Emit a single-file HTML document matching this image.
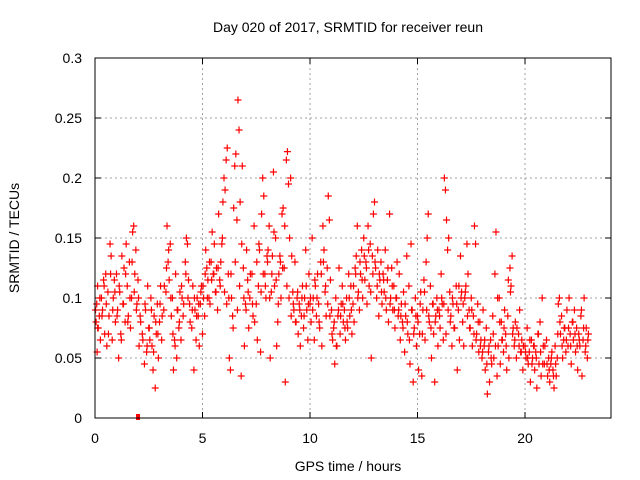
<!DOCTYPE html>
<html><head><meta charset="utf-8"><style>
body{margin:0;background:#fff}
svg{display:block;font-family:"Liberation Sans",sans-serif}
</style></head><body>
<svg id="chart" width="640" height="480">
<rect width="640" height="480" fill="#fff"/>
<text x="348" y="32" font-size="14" text-anchor="middle">Day 020 of 2017, SRMTID for receiver reun</text>
<text x="348" y="471" font-size="14" text-anchor="middle">GPS time / hours</text>
<text transform="translate(19,238) rotate(-90)" font-size="14" text-anchor="middle">SRMTID / TECUs</text>
<g id="grid"></g><g id="ticks"></g><g id="pts"></g>
<rect x="95" y="58" width="516" height="360" fill="none" stroke="#000" stroke-width="1"/>
</svg>
<script>
const xTicks=[0,5,10,15,20];
const yTicks=[0,0.05,0.1,0.15,0.2,0.25,0.3];
const yTickLabels=["0","0.05","0.1","0.15","0.2","0.25","0.3"];
const times=[0.05,0.08,0.1,0.12,0.15,0.2,0.25,0.3,0.35,0.4,0.45,0.5,0.55,0.6,0.65,0.7,0.75,0.8,0.85,0.9,0.95,1.0,1.05,1.1,1.15,1.2,1.25,1.3,1.35,1.4,1.45,1.5,1.55,1.6,1.65,1.7,1.75,1.8,1.85,1.9,1.95,2.0,2.05,2.1,2.2,2.3,2.35,2.4,2.45,2.5,2.55,2.6,2.65,2.7,2.75,2.8,2.85,2.9,2.95,3.0,3.05,3.1,3.2,3.3,3.35,3.4,3.45,3.5,3.55,3.6,3.65,3.7,3.75,3.8,3.85,3.9,3.95,4.0,4.05,4.1,4.2,4.25,4.3,4.35,4.4,4.5,4.55,4.6,4.65,4.7,4.75,4.8,4.85,4.9,4.95,5.0,5.05,5.1,5.15,5.2,5.25,5.3,5.35,5.4,5.45,5.5,5.55,5.6,5.65,5.7,5.75,5.8,5.85,5.9,5.95,6.0,6.05,6.1,6.15,6.2,6.25,6.3,6.35,6.4,6.45,6.5,6.55,6.6,6.65,6.7,6.75,6.8,6.85,6.9,6.95,7.0,7.05,7.1,7.15,7.2,7.3,7.35,7.4,7.5,7.55,7.6,7.65,7.7,7.75,7.8,7.85,7.9,7.95,8.0,8.05,8.1,8.15,8.2,8.25,8.3,8.35,8.4,8.45,8.5,8.55,8.6,8.65,8.7,8.75,8.8,8.85,8.9,8.95,9.0,9.05,9.1,9.15,9.2,9.25,9.3,9.35,9.4,9.45,9.5,9.55,9.6,9.65,9.7,9.75,9.8,9.85,9.9,9.95,10.0,10.05,10.1,10.15,10.2,10.25,10.3,10.35,10.4,10.45,10.5,10.55,10.6,10.65,10.7,10.75,10.8,10.85,10.9,10.95,11.0,11.05,11.1,11.15,11.2,11.25,11.3,11.35,11.4,11.45,11.5,11.55,11.6,11.65,11.7,11.75,11.8,11.85,11.9,11.95,12.0,12.05,12.1,12.15,12.2,12.25,12.3,12.35,12.4,12.45,12.5,12.55,12.6,12.65,12.7,12.75,12.8,12.85,12.9,12.95,13.0,13.05,13.1,13.15,13.2,13.25,13.3,13.35,13.4,13.45,13.5,13.55,13.6,13.65,13.7,13.75,13.8,13.85,13.9,13.95,14.0,14.05,14.1,14.15,14.2,14.25,14.3,14.35,14.4,14.45,14.5,14.55,14.6,14.65,14.7,14.75,14.8,14.85,14.9,14.95,15.0,15.05,15.1,15.15,15.2,15.25,15.3,15.35,15.4,15.45,15.5,15.55,15.6,15.65,15.7,15.75,15.8,15.85,15.9,15.95,16.0,16.05,16.1,16.15,16.2,16.25,16.3,16.35,16.4,16.45,16.5,16.55,16.6,16.65,16.7,16.8,16.85,16.9,16.95,17.0,17.05,17.1,17.15,17.2,17.25,17.3,17.35,17.4,17.45,17.5,17.55,17.6,17.65,17.7,17.75,17.8,17.85,17.9,17.95,18.0,18.05,18.1,18.15,18.2,18.25,18.3,18.35,18.4,18.45,18.5,18.55,18.6,18.65,18.7,18.75,18.8,18.85,18.9,18.95,19.0,19.05,19.1,19.15,19.2,19.25,19.3,19.35,19.4,19.45,19.5,19.55,19.6,19.7,19.75,19.8,19.85,19.9,20.0,20.05,20.1,20.15,20.2,20.25,20.3,20.35,20.4,20.45,20.5,20.55,20.6,20.65,20.7,20.75,20.8,20.85,20.9,21.0,21.05,21.1,21.15,21.2,21.25,21.3,21.35,21.4,21.45,21.5,21.55,21.6,21.65,21.7,21.75,21.8,21.85,21.9,21.95,22.0,22.05,22.1,22.15,22.2,22.25,22.3,22.35,22.4,22.45,22.5,22.55,22.6,22.65,22.7,22.75,22.8,22.85,22.9,22.95];
const values=[.08,.095,.055,.11,.075,.085,.065,.1,.09,.115,.07,.12,.06,.105,.085,.145,.135,.065,.1,.115,.08,.12,.09,.05,.105,.07,.135,.095,.125,.08,.145,.11,.085,.13,.075,.1,.155,.16,.12,.14,.095,.115,.06,.085,.07,.045,.09,.055,.11,.075,.065,.1,.06,.04,.085,.025,.07,.095,.05,.08,.11,.065,.09,.105,.16,.13,.115,.145,.085,.1,.04,.065,.12,.05,.09,.075,.105,.065,.1,.085,.13,.15,.145,.115,.095,.075,.11,.04,.09,.065,.1,.085,.06,.095,.11,.07,.1,.085,.14,.125,.115,.1,.095,.13,.155,.12,.145,.105,.125,.09,.17,.115,.13,.145,.18,.2,.19,.215,.225,.12,.05,.04,.1,.085,.175,.21,.22,.165,.265,.24,.18,.035,.21,.125,.06,.095,.14,.115,.075,.1,.12,.085,.16,.095,.065,.11,.14,.055,.17,.2,.185,.12,.1,.135,.14,.16,.05,.105,.135,.205,.11,.15,.06,.08,.12,.135,.1,.17,.175,.125,.03,.215,.222,.195,.15,.2,.135,.105,.09,.13,.08,.1,.07,.095,.06,.085,.11,.075,.1,.14,.09,.065,.12,.095,.08,.15,.1,.065,.11,.085,.12,.095,.075,.13,.06,.16,.14,.105,.085,.125,.185,.165,.115,.09,.065,.075,.045,.1,.06,.085,.125,.07,.095,.11,.08,.09,.065,.1,.075,.12,.085,.11,.07,.095,.08,.125,.135,.16,.105,.09,.12,.14,.1,.15,.115,.13,.095,.16,.11,.145,.05,.135,.17,.18,.125,.1,.14,.085,.115,.13,.095,.12,.105,.14,.09,.115,.08,.17,.1,.125,.09,.11,.075,.1,.13,.085,.12,.065,.095,.08,.105,.055,.085,.135,.07,.11,.045,.145,.09,.03,.075,.1,.06,.085,.04,.07,.105,.035,.09,.115,.065,.13,.15,.17,.08,.11,.05,.095,.07,.03,.085,.1,.06,.09,.075,.12,.095,.065,.2,.19,.165,.14,.15,.105,.085,.06,.095,.075,.11,.04,.09,.065,.135,.105,.08,.06,.1,.11,.145,.12,.09,.075,.1,.06,.085,.16,.145,.07,.095,.055,.08,.065,.05,.09,.06,.04,.075,.02,.055,.03,.065,.045,.085,.05,.12,.155,.035,.06,.1,.045,.08,.065,.055,.09,.07,.04,.085,.05,.125,.11,.135,.075,.06,.08,.05,.07,.09,.055,.065,.04,.06,.05,.075,.045,.055,.03,.065,.05,.06,.04,.055,.025,.07,.045,.08,.035,.1,.06,.045,.065,.035,.05,.03,.045,.055,.04,.025,.06,.035,.05,.095,.1,.07,.085,.05,.065,.075,.055,.09,.06,.1,.07,.045,.08,.065,.09,.055,.075,.04,.07,.06,.085,.035,.065,.1,.055,.075,.05,.07];
const times2=[0.025,0.125,0.225,0.325,0.425,0.525,0.625,0.725,0.825,0.925,1.025,1.125,1.225,1.325,1.425,1.525,1.625,1.725,1.825,1.925,2.025,2.125,2.225,2.325,2.425,2.525,2.625,2.725,2.825,2.925,3.025,3.125,3.225,3.325,3.425,3.525,3.625,3.725,3.825,3.925,4.025,4.125,4.225,4.325,4.425,4.525,4.625,4.725,4.825,4.925,5.025,5.125,5.225,5.325,5.425,5.525,5.625,5.725,5.825,5.925,6.025,6.125,6.225,6.325,6.425,6.525,6.625,6.725,6.825,6.925,7.025,7.125,7.225,7.325,7.425,7.525,7.625,7.725,7.825,7.925,8.025,8.125,8.225,8.325,8.425,8.525,8.625,8.725,8.825,8.925,9.025,9.125,9.225,9.325,9.425,9.525,9.625,9.725,9.825,9.925,10.025,10.125,10.225,10.325,10.425,10.525,10.625,10.725,10.825,10.925,11.025,11.125,11.225,11.325,11.425,11.525,11.625,11.725,11.825,11.925,12.025,12.125,12.225,12.325,12.425,12.525,12.625,12.725,12.825,12.925,13.025,13.125,13.225,13.325,13.425,13.525,13.625,13.725,13.825,13.925,14.025,14.125,14.225,14.325,14.425,14.525,14.625,14.725,14.825,14.925,15.025,15.125,15.225,15.325,15.425,15.525,15.625,15.725,15.825,15.925,16.025,16.125,16.225,16.325,16.425,16.525,16.625,16.725,16.825,16.925,17.025,17.125,17.225,17.325,17.425,17.525,17.625,17.725,17.825,17.925,18.025,18.125,18.225,18.325,18.425,18.525,18.625,18.725,18.825,18.925,19.025,19.125,19.225,19.325,19.425,19.525,19.625,19.725,19.825,19.925,20.025,20.125,20.225,20.325,20.425,20.525,20.625,20.725,20.825,20.925,21.025,21.125,21.225,21.325,21.425,21.525,21.625,21.725,21.825,21.925,22.025,22.125,22.225,22.325,22.425,22.525,22.625,22.725,22.825,22.925];
const values2=[.09,.075,.1,.085,.11,.095,.07,.12,.09,.105,.085,.11,.065,.095,.12,.08,.1,.13,.105,.09,.1,.08,.065,.095,.06,.075,.09,.055,.08,.07,.095,.085,.11,.125,.14,.1,.07,.06,.09,.08,.11,.095,.12,.1,.08,.09,.1,.085,.095,.105,.11,.12,.1,.13,.115,.12,.105,.125,.11,.15,.105,.095,.1,.12,.075,.13,.09,.11,.145,.1,.09,.105,.12,.095,.08,.13,.145,.105,.12,.11,.13,.1,.12,.155,.115,.095,.13,.125,.16,.11,.1,.085,.095,.08,.105,.09,.1,.085,.11,.095,.1,.09,.115,.1,.08,.12,.13,.11,.095,.085,.07,.08,.06,.09,.085,.095,.075,.08,.1,.09,.11,.12,.1,.13,.115,.135,.125,.14,.105,.12,.13,.11,.12,.105,.115,.1,.125,.095,.11,.09,.1,.09,.085,.075,.095,.08,.065,.09,.07,.085,.08,.095,.07,.105,.09,.085,.075,.095,.08,.09,.085,.1,.095,.07,.09,.08,.1,.075,.095,.11,.1,.095,.105,.085,.075,.09,.07,.065,.08,.06,.055,.065,.045,.06,.05,.07,.06,.1,.08,.065,.075,.06,.115,.105,.07,.065,.075,.06,.055,.06,.055,.05,.065,.045,.06,.05,.07,.055,.045,.06,.045,.04,.05,.035,.045,.07,.08,.06,.075,.065,.075,.06,.08,.07,.06,.065,.09,.075,.06,.065];
const x=t=>95+t*(516/24);
const y=v=>418-v*1200;
const NS="http://www.w3.org/2000/svg";
function mk(tag,at,parent){const e=document.createElementNS(NS,tag);for(const k in at)e.setAttribute(k,at[k]);parent.appendChild(e);return e;}
const grid=document.getElementById('grid'),ticks=document.getElementById('ticks'),pts=document.getElementById('pts');
xTicks.forEach(t=>{
 if(t>0){const g=mk('line',{x1:x(t),x2:x(t),y1:58,y2:418,stroke:'#a0a0a0','stroke-dasharray':'2,3'},grid);
 
 }
 mk('line',{x1:x(t),x2:x(t),y1:418,y2:412,stroke:'#000'},ticks);
 mk('line',{x1:x(t),x2:x(t),y1:58,y2:64,stroke:'#000'},ticks);
 const l=mk('text',{x:x(t),y:443,'font-size':14,'text-anchor':'middle'},ticks);l.textContent=t;
 
 
});
yTicks.forEach((v,i)=>{
 if(v>0&&v<0.3){const g=mk('line',{x1:95,x2:611,y1:y(v),y2:y(v),stroke:'#a0a0a0','stroke-dasharray':'2,3'},grid);
 
 }
 mk('line',{x1:95,x2:101,y1:y(v),y2:y(v),stroke:'#000'},ticks);
 mk('line',{x1:605,x2:611,y1:y(v),y2:y(v),stroke:'#000'},ticks);
 const l=mk('text',{x:82,y:y(v)+5,'font-size':14,'text-anchor':'end'},ticks);l.textContent=yTickLabels[i];
 
 
});
function plot(ts,vs){
 ts.forEach((t,i)=>{
  const cx=x(t),cy=y(vs[i]);
  const p=mk('path',{d:`M${cx-3.5},${cy}H${cx+3.5}M${cx},${cy-3.5}V${cy+3.5}`,stroke:'#f00','stroke-width':1.2,fill:'none'},pts);
  
  
 });
}
plot(times,values);
plot(times2,values2);
const r=mk('rect',{x:x(2.0)-2,y:414,width:4,height:6,fill:'#f00'},pts);


</script>
</body></html>
